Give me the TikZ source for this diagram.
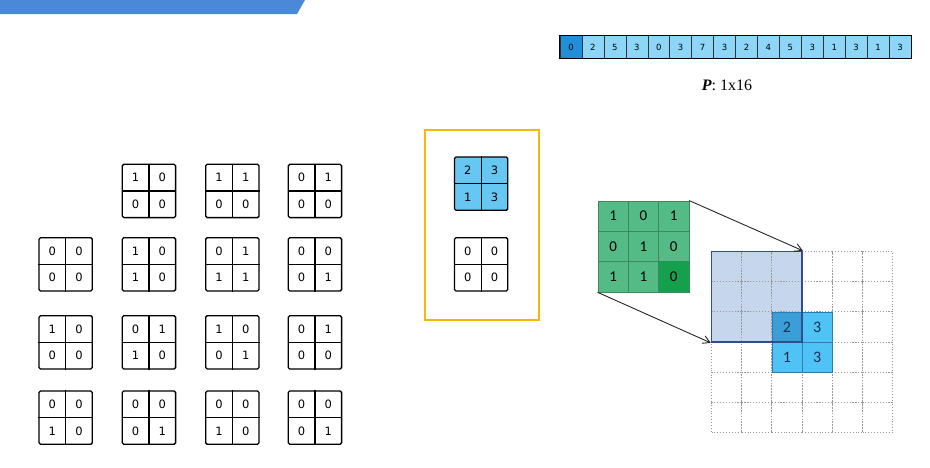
\documentclass[tikz,border=0pt]{standalone}
\usepackage{fontspec}
\setmainfont{Liberation Serif}
\newfontfamily\digitfont{DejaVu Sans}
\newfontfamily\calfont{Carlito}
\usetikzlibrary{arrows.meta}
\definecolor{barblue}{HTML}{4A88D8}
\definecolor{plight}{HTML}{8ED6F8}
\definecolor{pdark}{HTML}{1E8FD8}
\definecolor{yframe}{HTML}{F5B70A}
\definecolor{qblue}{HTML}{66C8F2}
\definecolor{gmid}{HTML}{55BB86}
\definecolor{gdark}{HTML}{14A04C}
\definecolor{gline}{HTML}{3C8A5C}
\definecolor{winfill}{HTML}{C6D6EC}
\definecolor{shadeline}{HTML}{2F4F8C}
\definecolor{cblue}{HTML}{4FC3F5}
\definecolor{cblued}{HTML}{3C9ED8}
\definecolor{cline}{HTML}{2E7BB0}
\definecolor{navy}{HTML}{1F3050}
\tikzset{
  pcell/.style={draw=black!80, line width=0.5pt, minimum width=21.94pt, minimum height=22.6pt, inner sep=0pt, font=\digitfont\fontsize{8.5}{9}\selectfont},
  qframe/.style={draw=black, line width=1.3pt, rounded corners=1.5pt, minimum size=53.3pt, inner sep=0pt},
  qline/.style={draw=black, line width=1.1pt},
  qnum/.style={inner sep=0pt, font=\digitfont\fontsize{11.5}{12}\selectfont},
  gcell/.style={draw=gline, line width=0.6pt, minimum size=30.3pt, inner sep=0pt, font=\calfont\fontsize{15}{16}\selectfont},
  dcell/.style={draw=gray!80, dotted, line width=0.9pt, minimum size=30.2pt, inner sep=0pt},
  bcell/.style={draw=cline, line width=0.6pt, fill=cblue, minimum size=30.2pt, inner sep=0pt, text=navy, font=\calfont\fontsize{16}{17}\selectfont},
  connector/.style={draw=black!85, line width=0.9pt, -{Straight Barb[length=7pt,width=8pt]}},
}
\newcommand\qbox[8]{%
  \node[qframe, fill=#8] (#1) at (#2+26.65,#3+26.65) {};
  \draw[qline] (#1.north) -- (#1.south);
  \draw[qline] (#1.west) -- (#1.east);
  \node[qnum] (#1-a) at (#2+13.3,#3+13.3) {#4};
  \node[qnum] (#1-b) at (#2+40,#3+13.3) {#5};
  \node[qnum] (#1-c) at (#2+13.3,#3+40) {#6};
  \node[qnum] (#1-d) at (#2+40,#3+40) {#7};
}
\begin{document}
\begin{tikzpicture}[x=1pt,y=-1pt]
\useasboundingbox (0,0) rectangle (930,467);
\fill[white] (0,0) rectangle (930,467);
% top bar
\fill[barblue] (0,0) -- (305,0) -- (297,14) -- (0,14) -- cycle;
% P array
\foreach \v [count=\i from 0] in {0,2,5,3,0,3,7,3,2,4,5,3,1,3,1,3} {
  \ifnum\i=0 \def\pc{pdark}\else\def\pc{plight}\fi
  \node[pcell, fill=\pc] (p\i) at (560+21.94*\i+10.97,47) {\v};
}
\draw[black, line width=1pt] (p0.north west) rectangle (p15.south east);
\node[font=\fontsize{16}{18}\selectfont] (plabel) at (727,85) {\textbf{\textit{P}}: 1x16};
% left grid of 2x2 boxes
\qbox{r1c2}{122.3}{164.3}{1}{0}{0}{0}{white}
\qbox{r1c3}{205.7}{164.3}{1}{1}{0}{0}{white}
\qbox{r1c4}{288.3}{164.3}{0}{1}{0}{0}{white}
\qbox{r2c1}{39}{237.7}{0}{0}{0}{0}{white}
\qbox{r2c2}{122.3}{237.7}{1}{0}{1}{0}{white}
\qbox{r2c3}{205.7}{237.7}{0}{1}{1}{1}{white}
\qbox{r2c4}{288.3}{237.7}{0}{0}{0}{1}{white}
\qbox{r3c1}{39}{315.7}{1}{0}{0}{0}{white}
\qbox{r3c2}{122.3}{315.7}{0}{1}{1}{0}{white}
\qbox{r3c3}{205.7}{315.7}{1}{0}{0}{1}{white}
\qbox{r3c4}{288.3}{315.7}{0}{1}{0}{0}{white}
\qbox{r4c1}{39}{391}{0}{0}{1}{0}{white}
\qbox{r4c2}{122.3}{391}{0}{0}{0}{1}{white}
\qbox{r4c3}{205.7}{391}{0}{0}{1}{0}{white}
\qbox{r4c4}{288.3}{391}{0}{0}{0}{1}{white}
% yellow box
\node[draw=yframe, line width=2pt, minimum width=114pt, minimum height=190pt, inner sep=0pt] (ybox) at (482,225) {};
\qbox{yb}{454.5}{157}{2}{3}{1}{3}{qblue}
\qbox{yw}{454.5}{237.7}{0}{0}{0}{0}{white}
% green kernel
\foreach \r [count=\ri from 0] in {{1,0,1},{0,1,0},{1,1,0}} {
  \foreach \v [count=\ci from 0] in \r {
    \pgfmathtruncatemacro\last{\ri*3+\ci}
    \ifnum\last=8 \def\gc{gdark}\else\def\gc{gmid}\fi
    \node[gcell, fill=\gc] (k\ri\ci) at (598+30.3*\ci+15.15, 201+30.3*\ri+15.15) {\v};
  }
}
\node[draw=gline, line width=0.8pt, minimum size=90.9pt, inner sep=0pt] (kern) at (643.45,246.45) {};
% 6x6 grid
\fill[winfill] (711.5,251.5) rectangle (802.1,342.1);
\foreach \r in {0,...,5} {
  \foreach \c in {0,...,5} {
    \node[dcell] (d\r\c) at (711.5+30.2*\c+15.1, 251.5+30.2*\r+15.1) {};
  }
}
\node[bcell, fill=cblued] (o1) at (d22) {2};
\node[bcell] (o2) at (d23) {3};
\node[bcell] (o3) at (d32) {1};
\node[bcell] (o4) at (d33) {3};
\node[draw=shadeline, line width=1.5pt, minimum size=90.6pt, inner sep=0pt] (win) at (756.8,296.8) {};
% connectors
\draw[connector] (kern.north east) -- (win.north east);
\draw[connector] (kern.south west) -- (win.south west);
\end{tikzpicture}
\end{document}
